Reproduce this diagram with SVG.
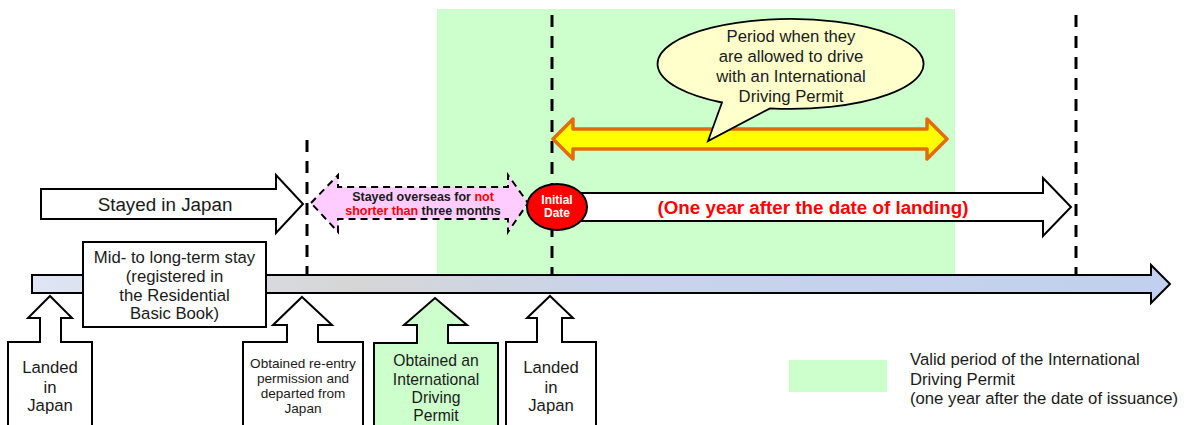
<svg xmlns="http://www.w3.org/2000/svg" width="1189" height="425" viewBox="0 0 1189 425">
<defs>
<linearGradient id="barGrad" x1="32" y1="0" x2="1170" y2="0" gradientUnits="userSpaceOnUse">
<stop offset="0" stop-color="#dfe5f5"/>
<stop offset="0.28" stop-color="#d6d6d6"/>
<stop offset="0.5" stop-color="#c9d4ea"/>
<stop offset="1" stop-color="#c0d0ee"/>
</linearGradient>
<style>
text{font-family:"Liberation Sans",Arial,sans-serif;fill:#1a1a1a;text-anchor:middle}
.box{fill:#ffffff;stroke:#000;stroke-width:2}
.dash{stroke:#000;stroke-width:3;stroke-dasharray:12 9;fill:none}
.t17{font-size:16.7px}
.red{fill:#ff0000}
</style>
</defs>
<rect width="1189" height="425" fill="#ffffff"/>
<rect id="valid-period" x="437" y="9" width="518" height="268" fill="#ccffcc"/>

<g id="connectors">
<line class="dash" x1="307" y1="140" x2="307" y2="275"/>
<line class="dash" x1="552" y1="15" x2="552" y2="275"/>
<line class="dash" x1="1076" y1="15" x2="1076" y2="275"/>
</g>

<g id="timeline">
<path d="M32,275 H1151 V265 L1170,284 L1151,303 V293 H32 Z" fill="url(#barGrad)" stroke="#000" stroke-width="2"/>
</g>

<g id="stayed-japan">
<path class="box" d="M41,189 H276 V175 L303,204 L276,233 V219 H41 Z"/>
<text x="165" y="211" style="font-size:18.8px">Stayed in Japan</text>
</g>

<g id="stayed-overseas">
<path d="M311,203 L338,175 V187 H508 V175 L528,203 L508,232 V219 H338 V232 Z" fill="#ffccff" stroke="#000" stroke-width="2" stroke-dasharray="7 5"/>
<text x="423" y="201" style="font-size:12.5px;font-weight:bold">Stayed overseas for <tspan class="red">not</tspan></text>
<text x="423" y="214.5" style="font-size:12.5px;font-weight:bold"><tspan class="red">shorter than</tspan> three months</text>
</g>

<g id="one-year-landing">
<path class="box" d="M560,193 H1043 V178 L1071,207 L1043,236 V221 H560 Z"/>
<text x="813" y="214" style="font-size:18.8px;font-weight:bold;fill:#ff0000">(One year after the date of landing)</text>
</g>

<g id="initial-date">
<ellipse cx="557" cy="207" rx="30" ry="23" fill="#ff0000" stroke="#000" stroke-width="2"/>
<text x="557" y="203.5" style="font-size:12px;font-weight:bold;fill:#ffffff">Initial</text>
<text x="557" y="216.5" style="font-size:12px;font-weight:bold;fill:#ffffff">Date</text>
</g>

<g id="driving-period">
<path d="M553,139 L573,119 V129 H927 V119 L947,139 L927,159 V149 H573 V159 Z" fill="#ffff00" stroke="#e36c0a" stroke-width="3.5" stroke-linejoin="round"/>
</g>

<g id="bubble">
<path d="M722,102.5 L708,141 L770,108.4 A133,45 0 1 0 722,102.5 Z" fill="#ffffcc" stroke="#000" stroke-width="1.8"/>
<text x="791" y="42" class="t17">Period when they</text>
<text x="791" y="62" class="t17">are allowed to drive</text>
<text x="791" y="82" class="t17">with an International</text>
<text x="791" y="102" class="t17">Driving Permit</text>
</g>

<g id="mid-long-stay">
<rect class="box" x="83" y="242" width="183" height="85"/>
<text x="174.5" y="263" class="t17">Mid- to long-term stay</text>
<text x="174.5" y="282" class="t17">(registered in</text>
<text x="174.5" y="301" class="t17">the Residential</text>
<text x="174.5" y="319" class="t17">Basic Book)</text>
</g>

<g id="landed-1">
<path class="box" d="M50,296 L72,318 H61 V342 H92 V430 H8 V342 H40 V318 H28 Z"/>
<text x="50" y="373" class="t17">Landed</text>
<text x="50" y="393" class="t17">in</text>
<text x="50" y="411" class="t17">Japan</text>
</g>

<g id="departed">
<path class="box" d="M302,297 L332,325 H318 V342 H363 V430 H243 V342 H287 V325 H273 Z"/>
<text x="303" y="368" style="font-size:13.6px">Obtained re-entry</text>
<text x="303" y="383" style="font-size:13.6px">permission and</text>
<text x="303" y="398" style="font-size:13.6px">departed from</text>
<text x="303" y="413" style="font-size:13.6px">Japan</text>
</g>

<g id="obtained-idp">
<path d="M435,298 L467,325 H448 V343 H498 V430 H374 V343 H417 V325 H404 Z" fill="#ccffcc" stroke="#000" stroke-width="2"/>
<text x="436" y="365.5" style="font-size:15.7px">Obtained an</text>
<text x="436" y="384.5" style="font-size:15.7px">International</text>
<text x="436" y="402.5" style="font-size:15.7px">Driving</text>
<text x="436" y="420.5" style="font-size:15.7px">Permit</text>
</g>

<g id="landed-2">
<path class="box" d="M550,296 L573,318 H562 V342 H596 V430 H506 V342 H537 V318 H527 Z"/>
<text x="551" y="373" class="t17">Landed</text>
<text x="551" y="393" class="t17">in</text>
<text x="551" y="411" class="t17">Japan</text>
</g>

<g id="legend">
<rect x="789" y="360" width="98" height="32" fill="#ccffcc"/>
<text x="910" y="365" class="t17" style="text-anchor:start">Valid period of the International</text>
<text x="910" y="384.5" class="t17" style="text-anchor:start">Driving Permit</text>
<text x="910" y="404" class="t17" style="text-anchor:start">(one year after the date of issuance)</text>
</g>
</svg>
